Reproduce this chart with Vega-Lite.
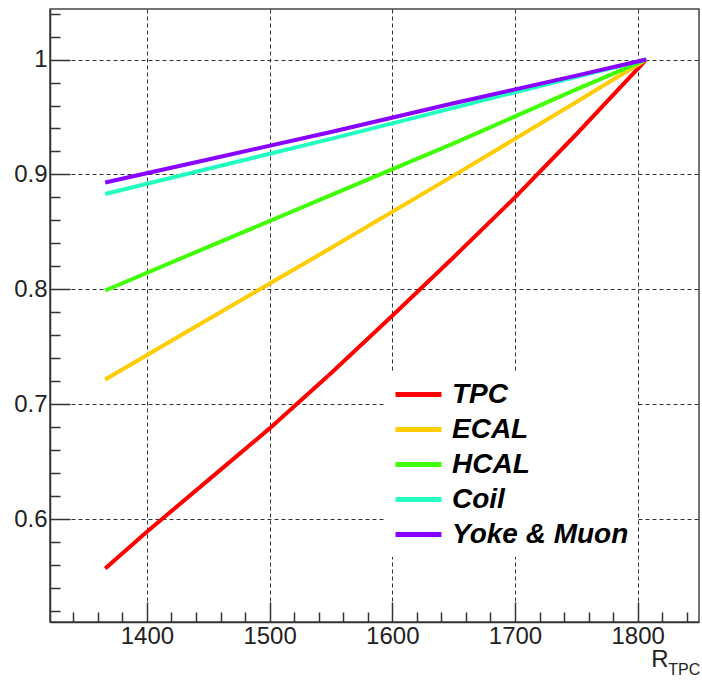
{
  "$schema": "https://vega.github.io/schema/vega-lite/v6.json",
  "width": 649,
  "height": 613,
  "autosize": "none",
  "padding": {"left": 50, "top": 9, "right": 3, "bottom": 58},
  "background": "white",
  "config": {
    "view": {"stroke": "#444", "strokeWidth": 1.5},
    "axis": {"labelFont": "Liberation Sans", "labelFontSize": 24, "labelColor": "#222", "title": null}
  },
  "resolve": {"axis": {"x": "independent", "y": "independent"}},
  "layer": [
    {
      "data": {"values": [
        {"R": 1366, "v": 0.557, "s": "TPC"},
        {"R": 1400, "v": 0.589, "s": "TPC"},
        {"R": 1450, "v": 0.634, "s": "TPC"},
        {"R": 1500, "v": 0.679, "s": "TPC"},
        {"R": 1550, "v": 0.727, "s": "TPC"},
        {"R": 1600, "v": 0.777, "s": "TPC"},
        {"R": 1650, "v": 0.828, "s": "TPC"},
        {"R": 1700, "v": 0.880, "s": "TPC"},
        {"R": 1750, "v": 0.935, "s": "TPC"},
        {"R": 1807, "v": 1.0, "s": "TPC"},
        {"R": 1366, "v": 0.7215, "s": "ECAL"},
        {"R": 1450, "v": 0.774, "s": "ECAL"},
        {"R": 1550, "v": 0.836, "s": "ECAL"},
        {"R": 1650, "v": 0.899, "s": "ECAL"},
        {"R": 1750, "v": 0.963, "s": "ECAL"},
        {"R": 1807, "v": 1.0, "s": "ECAL"},
        {"R": 1366, "v": 0.799, "s": "HCAL"},
        {"R": 1450, "v": 0.837, "s": "HCAL"},
        {"R": 1550, "v": 0.882, "s": "HCAL"},
        {"R": 1650, "v": 0.927, "s": "HCAL"},
        {"R": 1750, "v": 0.974, "s": "HCAL"},
        {"R": 1807, "v": 1.0, "s": "HCAL"},
        {"R": 1366, "v": 0.883, "s": "Coil"},
        {"R": 1450, "v": 0.905, "s": "Coil"},
        {"R": 1550, "v": 0.931, "s": "Coil"},
        {"R": 1650, "v": 0.958, "s": "Coil"},
        {"R": 1750, "v": 0.985, "s": "Coil"},
        {"R": 1807, "v": 1.0, "s": "Coil"},
        {"R": 1366, "v": 0.893, "s": "Yoke & Muon"},
        {"R": 1450, "v": 0.913, "s": "Yoke & Muon"},
        {"R": 1550, "v": 0.937, "s": "Yoke & Muon"},
        {"R": 1650, "v": 0.962, "s": "Yoke & Muon"},
        {"R": 1750, "v": 0.986, "s": "Yoke & Muon"},
        {"R": 1807, "v": 1.0, "s": "Yoke & Muon"}
      ]},
      "mark": {"type": "line", "strokeWidth": 4},
      "encoding": {
        "x": {"field": "R", "type": "quantitative",
          "scale": {"domain": [1321, 1850], "nice": false, "zero": false},
          "axis": {"orient": "bottom", "values": [1400, 1500, 1600, 1700, 1800], "format": "d",
            "tickSize": -20, "tickColor": "#333", "tickWidth": 1.5,
            "grid": true, "gridDash": [4, 3], "gridColor": "#333", "gridWidth": 1,
            "domain": true, "domainColor": "#333", "domainWidth": 1.5,
            "labelPadding": 22, "labelFlush": false, "labelOverlap": false}},
        "y": {"field": "v", "type": "quantitative",
          "scale": {"domain": [0.5105, 1.044], "nice": false, "zero": false},
          "axis": {"orient": "left", "values": [0.6, 0.7, 0.8, 0.9, 1.0], "format": "~g",
            "tickSize": -20, "tickColor": "#333", "tickWidth": 1.5,
            "grid": true, "gridDash": [4, 3], "gridColor": "#333", "gridWidth": 1,
            "domain": true, "domainColor": "#333", "domainWidth": 1.5,
            "labelPadding": 23, "labelFlush": false, "labelOverlap": false}},
        "color": {"field": "s", "type": "nominal",
          "scale": {"domain": ["TPC", "ECAL", "HCAL", "Coil", "Yoke & Muon"],
                    "range": ["#ff0000", "#ffcc00", "#40ff00", "#22ffc0", "#8800ff"]},
          "legend": {"orient": "none", "legendX": 335, "legendY": 364, "title": null,
            "fillColor": "white", "padding": 8, "symbolType": "stroke", "symbolSize": 2116,
            "symbolStrokeWidth": 5, "labelFontSize": 28, "labelFont": "Liberation Sans",
            "labelFontStyle": "italic", "labelFontWeight": "bold", "labelColor": "black",
            "clipHeight": 27, "rowPadding": 6, "labelOffset": 8, "labelLimit": 400}}
      }
    },
    {
      "data": {"values": [{"label": "R"}]},
      "mark": {"type": "text", "align": "left", "baseline": "alphabetic",
               "font": "Liberation Sans", "fontSize": 24, "color": "#222"},
      "encoding": {
        "text": {"field": "label"},
        "x": {"datum": 1811, "type": "quantitative",
          "scale": {"domain": [1321, 1850], "nice": false, "zero": false},
          "axis": {"orient": "bottom",
            "values": [1340, 1360, 1380, 1420, 1440, 1460, 1480, 1520, 1540, 1560, 1580, 1620, 1640, 1660, 1680, 1720, 1740, 1760, 1780, 1820, 1840],
            "tickSize": -10, "tickColor": "#333", "tickWidth": 1.5, "labels": false, "domain": false, "grid": false}},
        "y": {"datum": 0.471, "type": "quantitative",
          "scale": {"domain": [0.5105, 1.044], "nice": false, "zero": false},
          "axis": {"orient": "left",
            "values": [0.52, 0.54, 0.56, 0.58, 0.62, 0.64, 0.66, 0.68, 0.72, 0.74, 0.76, 0.78, 0.82, 0.84, 0.86, 0.88, 0.92, 0.94, 0.96, 0.98, 1.02, 1.04],
            "tickSize": -10, "tickColor": "#333", "tickWidth": 1.5, "labels": false, "domain": false, "grid": false}}
      }
    },
    {
      "data": {"values": [{"label": "TPC"}]},
      "mark": {"type": "text", "align": "left", "baseline": "alphabetic",
               "font": "Liberation Sans", "fontSize": 16, "color": "#222"},
      "encoding": {
        "text": {"field": "label"},
        "x": {"datum": 1825, "type": "quantitative",
          "scale": {"domain": [1321, 1850], "nice": false, "zero": false}, "axis": null},
        "y": {"datum": 0.464, "type": "quantitative",
          "scale": {"domain": [0.5105, 1.044], "nice": false, "zero": false}, "axis": null}
      }
    }
  ]
}
